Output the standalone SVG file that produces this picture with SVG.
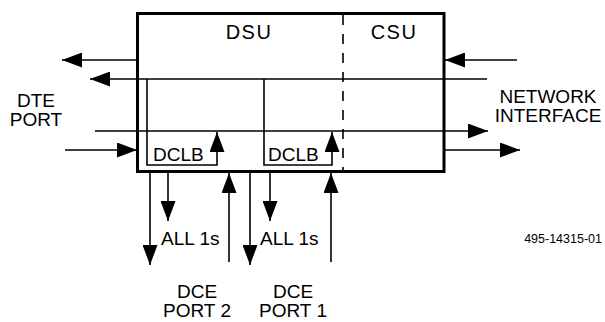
<svg xmlns="http://www.w3.org/2000/svg" width="605" height="322" viewBox="0 0 605 322">
<style>
text{font-family:"Liberation Sans",Arial,Helvetica,sans-serif;fill:#000}
.big{font-size:20px;letter-spacing:1.5px}
.lbl{font-size:19px}
.mid{text-anchor:middle}
.small{font-size:12.5px;text-anchor:end}
.ln{fill:none;stroke:#000;stroke-width:1.6}
.arr{marker-end:url(#ah)}
</style>
<defs>
<marker id="ah" markerUnits="userSpaceOnUse" markerWidth="20" markerHeight="15" refX="20" refY="7.5" orient="auto" viewBox="0 0 20 15">
<path d="M0,0 L20,7.5 L0,15 Z" fill="#000"/>
</marker>
</defs>
<rect width="605" height="322" fill="#fff"/>
<g id="unit">
<rect x="137.5" y="13.5" width="306.5" height="158" fill="none" stroke="#000" stroke-width="3"/>
<line x1="343" y1="15" x2="343" y2="171" stroke="#000" stroke-width="1.6" stroke-dasharray="10 9"/>
<text class="big mid" x="249" y="39">DSU</text>
<text class="big mid" x="394" y="39">CSU</text>
</g>
<g id="dclb1">
<text class="lbl" x="153" y="161">DCLB</text>
</g>
<g id="dclb2">
<text class="lbl" x="268" y="161">DCLB</text>
</g>
<g id="dte-port">
<text class="lbl mid" x="36" y="107">DTE</text>
<text class="lbl mid" x="36" y="126">PORT</text>
</g>
<g id="network-interface">
<text class="lbl mid" x="548" y="103">NETWORK</text>
<text class="lbl mid" x="548" y="122">INTERFACE</text>
</g>
<g id="dce-port2">
<text class="lbl mid" x="197" y="298">DCE</text>
<text class="lbl mid" x="197" y="317">PORT 2</text>
</g>
<g id="dce-port1">
<text class="lbl mid" x="293" y="298">DCE</text>
<text class="lbl mid" x="293" y="317">PORT 1</text>
</g>
<g id="all1s-labels">
<text class="lbl" x="161" y="245">ALL 1s</text>
<text class="lbl" x="260" y="245">ALL 1s</text>
</g>
<g id="figure-number">
<text class="small" x="602" y="243">495-14315-01</text>
</g>
<g id="connectors">
<line class="ln arr" x1="137" y1="60" x2="62" y2="60"/>
<line class="ln arr" x1="487" y1="79" x2="90" y2="79"/>
<line class="ln arr" x1="95" y1="131" x2="488" y2="131"/>
<line class="ln arr" x1="65" y1="150" x2="137" y2="150"/>
<line class="ln arr" x1="517" y1="60" x2="445" y2="60"/>
<line class="ln arr" x1="444" y1="150" x2="520" y2="150"/>
<polyline class="ln arr" points="147,79 147,165 217,165 217,132"/>
<polyline class="ln arr" points="264,79 264,165 332,165 332,132"/>
<line class="ln arr" x1="150" y1="172" x2="150" y2="265"/>
<line class="ln arr" x1="168" y1="172" x2="168" y2="221"/>
<line class="ln arr" x1="229" y1="262" x2="229" y2="173"/>
<line class="ln arr" x1="250" y1="172" x2="250" y2="265"/>
<line class="ln arr" x1="270" y1="172" x2="270" y2="221"/>
<line class="ln arr" x1="331" y1="262" x2="331" y2="173"/>
</g>
</svg>
